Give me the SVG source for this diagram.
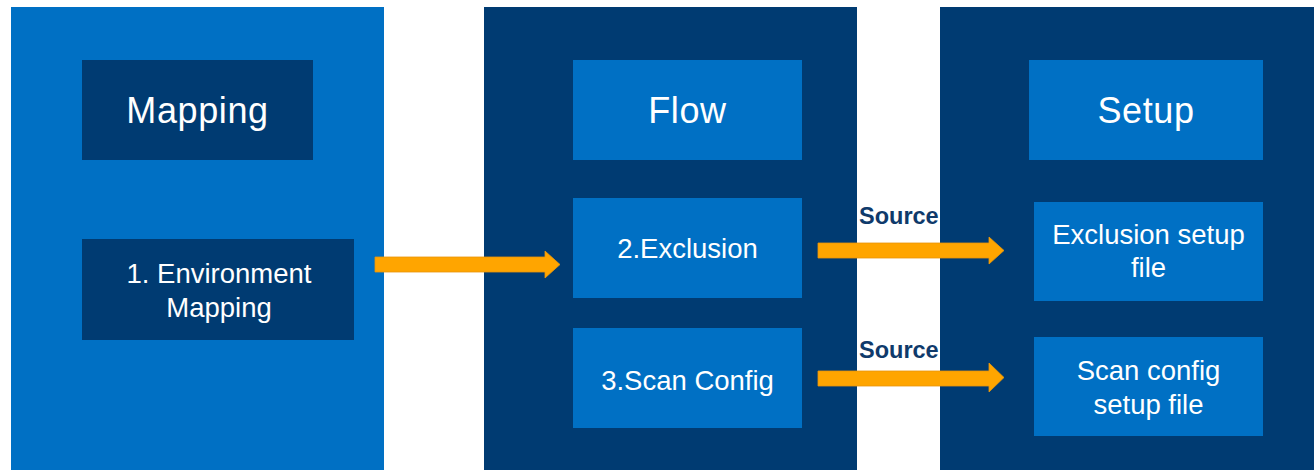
<svg xmlns="http://www.w3.org/2000/svg" width="1314" height="470" viewBox="0 0 1314 470">
<style>
.light{fill:#0070C4}
.dark{fill:#003B72}
.t{font-family:"Liberation Sans",Arial,sans-serif;fill:#fff;text-anchor:middle}
.big{font-size:36px;letter-spacing:0.6px}
.mid{font-size:27.5px}
.src{font-family:"Liberation Sans",Arial,sans-serif;font-weight:bold;font-size:23.5px;fill:#0F3A6B}
.arrow{fill:#FFA500;stroke:#E8960A;stroke-width:0.8}
</style>
<rect width="1314" height="470" fill="#fff"/>
<g id="panel-mapping">
<rect class="light" x="11" y="7" width="373" height="463"/>
</g>
<g id="panel-flow">
<rect class="dark" x="484" y="7" width="373" height="463"/>
</g>
<g id="panel-setup">
<rect class="dark" x="940" y="7" width="374" height="463"/>
</g>
<g id="mapping">
<rect class="dark" x="82" y="60" width="231" height="100"/>
<text class="t big" x="197.5" y="123">Mapping</text>
</g>
<g id="env-mapping">
<rect class="dark" x="82" y="239" width="272" height="101"/>
<text class="t mid" x="219" y="283">1. Environment</text>
<text class="t mid" x="219" y="317">Mapping</text>
</g>
<g id="flow">
<rect class="light" x="573" y="60" width="229" height="100"/>
<text class="t big" x="687.5" y="123">Flow</text>
</g>
<g id="exclusion">
<rect class="light" x="573" y="198" width="229" height="100"/>
<text class="t mid" x="687.5" y="258">2.Exclusion</text>
</g>
<g id="scan-config">
<rect class="light" x="573" y="328" width="229" height="100"/>
<text class="t mid" x="687.5" y="390">3.Scan Config</text>
</g>
<g id="setup">
<rect class="light" x="1029" y="60" width="234" height="100"/>
<text class="t big" x="1146" y="123">Setup</text>
</g>
<g id="exclusion-setup">
<rect class="light" x="1034" y="202" width="229" height="99"/>
<text class="t mid" x="1148.5" y="244">Exclusion setup</text>
<text class="t mid" x="1148.5" y="277">file</text>
</g>
<g id="scan-setup">
<rect class="light" x="1034" y="337" width="229" height="99"/>
<text class="t mid" x="1148.5" y="380">Scan config</text>
<text class="t mid" x="1148.5" y="414">setup file</text>
</g>
<g id="connectors">
<polygon class="arrow" points="375,257 545,257 545,251 560,264.5 545,278 545,272 375,272"/>
<polygon class="arrow" points="818,243 989,243 989,237 1004,250.5 989,264 989,258 818,258"/>
<polygon class="arrow" points="818,371 989,371 989,363 1004,377.5 989,392 989,386 818,386"/>
<text class="src" x="859" y="224">Source</text>
<text class="src" x="859" y="358">Source</text>
</g>
</svg>
